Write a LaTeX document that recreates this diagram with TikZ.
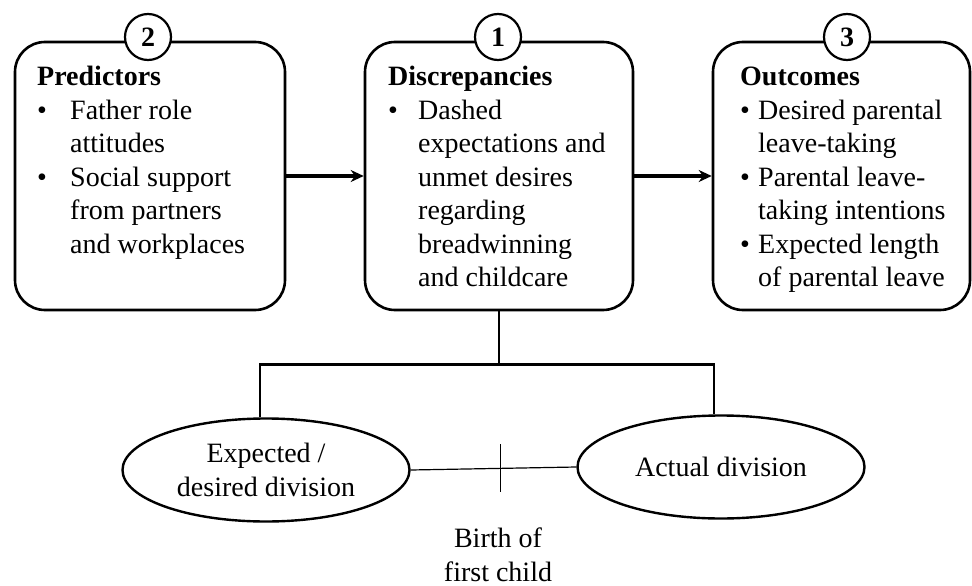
\documentclass[tikz,border=0pt]{standalone}
\usepackage{fontspec}
\setmainfont{Liberation Serif}
\usetikzlibrary{positioning, arrows.meta, shapes.geometric, calc}
\newcommand{\bl}[1]{\makebox[#1][l]{\textbullet}}
\newcommand{\ind}[1]{\hspace*{#1}}

\begin{document}
\begin{tikzpicture}[x=1pt, y=-1pt,
    every node/.style={font=\fontsize{28}{33.5}\selectfont},
    box/.style={draw, line width=2.6pt, rounded corners=30pt},
    txt/.style={anchor=north west, inner sep=0pt, align=left},
    num/.style={draw, circle, fill=white, line width=2.2pt, minimum size=46pt, inner sep=0pt, font=\fontsize{28}{33.5}\selectfont\bfseries},
    ell/.style={draw, ellipse, line width=2.4pt, minimum width=287pt, minimum height=103pt, inner sep=0pt, align=center},
    arr/.style={->, >={Stealth[length=13pt, width=12pt]}, line width=3.2pt},
    tree/.style={line width=2.8pt}]
  \useasboundingbox (0,0) rectangle (972,586);

  % Drei Kaesten: Praediktoren, Diskrepanzen, Ergebnisse
  \node[box, minimum width=270pt, minimum height=268pt] (pred) at (150,176) {};
  \node[box, minimum width=268pt, minimum height=268pt] (disc) at (499,176) {};
  \node[box, minimum width=257pt, minimum height=268pt] (outc) at (841.5,176) {};

  \node[txt] (predtxt) at (37,62) {\strut\textbf{Predictors}\\
    \bl{33pt}Father role\\ \ind{33pt}attitudes\\
    \bl{33pt}Social support\\ \ind{33pt}from partners\\ \ind{33pt}and workplaces};
  \node[txt] (disctxt) at (388,62) {\strut\textbf{Discrepancies}\\
    \bl{30pt}Dashed\\ \ind{30pt}expectations and\\ \ind{30pt}unmet desires\\
    \ind{30pt}regarding\\ \ind{30pt}breadwinning\\ \ind{30pt}and childcare};
  \node[txt] (outctxt) at (740,62) {\strut\textbf{Outcomes}\\
    \bl{18pt}Desired parental\\ \ind{18pt}leave-taking\\
    \bl{18pt}Parental leave-\\ \ind{18pt}taking intentions\\
    \bl{18pt}Expected length\\ \ind{18pt}of parental leave};

  % Nummern auf den Kaesten
  \node[num] (n2) at (148,37) {2};
  \node[num] (n1) at (498,37) {1};
  \node[num] (n3) at (847,37) {3};

  \draw[arr] (pred) -- (disc);
  \draw[arr] (disc) -- (outc);

  % Aufteilung vor und nach der Geburt
  \node[ell] (expd) at (266,470) {Expected /\\desired division};
  \node[ell] (actd) at (721,467) {Actual division};

  \draw[tree] (disc.south) -- ++(0,53) coordinate (hub);
  \draw[tree] ([xshift=-6pt]expd.north) |- (hub) -| ([xshift=-7pt]actd.north);

  \draw[line width=1.2pt] (expd.east) -- (actd.west);
  \coordinate (tk) at ($(expd.east)!(hub)!(actd.west)$);
  \draw[line width=1.2pt] ([yshift=24pt]tk) -- ([yshift=-24pt]tk);

  \node[align=center] (birth) at (498,555) {Birth of\\first child};
\end{tikzpicture}
\end{document}
